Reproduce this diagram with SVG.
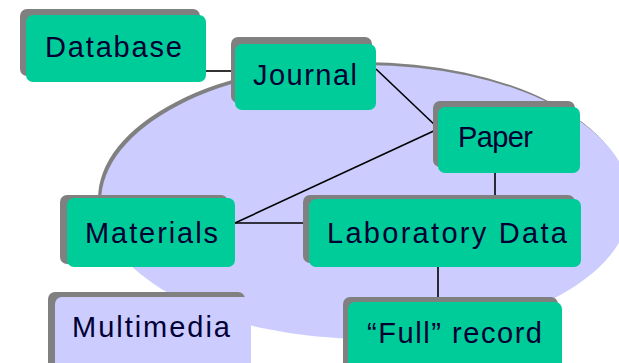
<svg xmlns="http://www.w3.org/2000/svg" width="619" height="363" viewBox="0 0 619 363">
<style>
.sh{fill:#808080}
.box{fill:#00CC99}
.lav{fill:#CCCCFF}
.t{font-family:"Liberation Sans",Arial,sans-serif;font-size:29px;fill:#000033}
.c{stroke:#000;stroke-width:1.6;fill:none}
</style>
<rect width="619" height="363" fill="#fff"/>
<g id="region">
<ellipse cx="363" cy="199" rx="265" ry="137" class="sh"/>
<ellipse cx="366" cy="202" rx="265" ry="137" class="lav"/>
</g>
<g id="connectors">
<line class="c" x1="206" y1="71" x2="235" y2="71"/>
<line class="c" x1="376" y1="69" x2="438" y2="128"/>
<line class="c" x1="438" y1="129" x2="235" y2="223"/>
<line class="c" x1="235" y1="223" x2="309" y2="223"/>
<line class="c" x1="495" y1="173" x2="495" y2="199"/>
<line class="c" x1="438" y1="267" x2="438" y2="302"/>
</g>
<g id="database">
<rect class="sh" x="20" y="9" width="180" height="67" rx="7"/>
<rect class="box" x="26" y="15" width="180" height="67" rx="7"/>
<text class="t" x="45" y="57" textLength="137" lengthAdjust="spacing">Database</text>
</g>
<g id="journal">
<rect class="sh" x="231" y="37" width="141" height="66" rx="7"/>
<rect class="box" x="235" y="44" width="141" height="66" rx="7"/>
<text class="t" x="253" y="85" textLength="104" lengthAdjust="spacing">Journal</text>
</g>
<g id="paper">
<rect class="sh" x="433" y="101" width="142" height="66" rx="7"/>
<rect class="box" x="438" y="107" width="142" height="66" rx="7"/>
<text class="t" x="458" y="147" textLength="75" lengthAdjust="spacing">Paper</text>
</g>
<g id="materials">
<rect class="sh" x="60" y="195" width="168" height="69" rx="7"/>
<rect class="box" x="67" y="198" width="168" height="69" rx="7"/>
<text class="t" x="85" y="243" textLength="133" lengthAdjust="spacing">Materials</text>
</g>
<g id="laboratory-data">
<rect class="sh" x="303" y="195" width="272" height="68" rx="7"/>
<rect class="box" x="309" y="199" width="272" height="68" rx="7"/>
<text class="t" x="327" y="243" textLength="240" lengthAdjust="spacing">Laboratory Data</text>
</g>
<g id="multimedia">
<rect class="sh" x="48" y="292" width="197" height="80" rx="7"/>
<rect class="lav" x="55" y="297" width="196" height="80" rx="7"/>
<text class="t" x="72" y="337" textLength="158" lengthAdjust="spacing">Multimedia</text>
</g>
<g id="full-record">
<rect class="sh" x="343" y="297" width="215" height="80" rx="7"/>
<rect class="box" x="348" y="302" width="214" height="80" rx="7"/>
<text class="t" x="367" y="343" textLength="175" lengthAdjust="spacing">“Full” record</text>
</g>
</svg>
